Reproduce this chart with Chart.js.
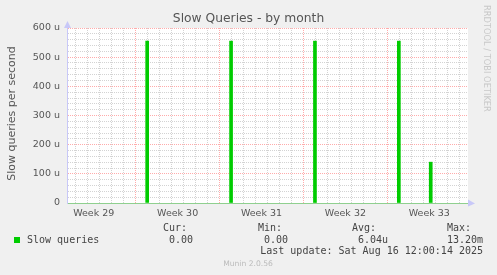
<!DOCTYPE html>
<html>
<head>
<meta charset="utf-8">
<script src="https://cdn.jsdelivr.net/npm/chart.js@4/dist/chart.umd.min.js"></script>
<style>
  html, body { margin: 0; padding: 0; background: #f0f0f0; }
</style>
</head>
<body>
<canvas id="chart" width="497" height="275"></canvas>
<script>
// x values are days counted from the start of week 30
const weekLabels = ['Week 29', 'Week 30', 'Week 31', 'Week 32', 'Week 33'];
const weekCenters = [-3.5, 3.5, 10.5, 17.5, 24.5];
const dayMin = -5.73, dayMax = 27.73;

// slow queries per second, in micro (u)
const spikeDays = [0.96, 7.96, 14.96, 21.96, 24.62];
const spikeValues = [555, 555, 555, 555, 140];

const yMax = 600, yStep = 20;

const statNames = ['Cur:', 'Min:', 'Avg:', 'Max:'];
const statValues = ['0.00', '0.00', '6.04u', '13.20m'];
const lastUpdate = 'Last update: Sat Aug 16 12:00:14 2025';

const SANS = '"DejaVu Sans", sans-serif';
const MONO = '"DejaVu Sans Mono", monospace';
const majorGrid = 'rgba(255,0,0,0.33)';
const minorGrid = 'rgba(128,128,128,0.35)';
const axisBlue = '#c8c8f8';

const munin = {
    id: 'munin',
    beforeDraw(chart) {
        const { ctx, chartArea: a } = chart;
        ctx.save();
        ctx.fillStyle = '#f0f0f0';
        ctx.fillRect(0, 0, chart.width, chart.height);
        ctx.fillStyle = '#ffffff';
        ctx.fillRect(a.left, a.top, a.right - a.left, a.bottom - a.top);
        ctx.restore();
    },
    afterDraw(chart) {
        const { ctx, chartArea: a } = chart;
        ctx.save();
        // title
        ctx.fillStyle = '#555';
        ctx.textAlign = 'center';
        ctx.textBaseline = 'middle';
        ctx.font = '12.3px ' + SANS;
        ctx.fillText('Slow Queries - by month', 248.5, 19);

        // y title
        ctx.save();
        ctx.translate(11.7, 113.5);
        ctx.rotate(-Math.PI / 2);
        ctx.font = '11px ' + SANS;
        ctx.fillText('Slow queries per second', 0, 0);
        ctx.restore();

        // rrdtool credit
        ctx.save();
        ctx.translate(486, 5);
        ctx.rotate(Math.PI / 2);
        ctx.fillStyle = '#c8c8c8';
        ctx.textAlign = 'left';
        ctx.font = '8.3px ' + SANS;
        ctx.fillText('RRDTOOL / TOBI OETIKER', 0, 0);
        ctx.restore();

        // arrows
        ctx.fillStyle = axisBlue;
        ctx.beginPath();
        ctx.moveTo(a.left - 3, a.top);
        ctx.lineTo(a.left + 0.5, a.top - 7);
        ctx.lineTo(a.left + 4, a.top);
        ctx.fill();
        ctx.beginPath();
        ctx.moveTo(a.right, a.bottom - 3.5);
        ctx.lineTo(a.right + 7, a.bottom + 0.5);
        ctx.lineTo(a.right, a.bottom + 3.5);
        ctx.fill();

        // legend
        ctx.fillStyle = '#00cc00';
        ctx.fillRect(14, 237, 6, 6);
        ctx.fillStyle = '#444';
        ctx.font = '10px ' + MONO;
        ctx.textAlign = 'left';
        ctx.fillText('Slow queries', 27, 240);
        const nameRight = [187, 282, 376, 471];
        const valRight = [193, 288, 388, 483];
        ctx.textAlign = 'right';
        statNames.forEach((n, i) => ctx.fillText(n, nameRight[i], 228));
        statValues.forEach((v, i) => ctx.fillText(v, valRight[i], 240));
        ctx.fillText(lastUpdate, 483, 251.5);

        ctx.fillStyle = '#bbb';
        ctx.textAlign = 'center';
        ctx.font = '7.6px ' + SANS;
        ctx.fillText('Munin 2.0.56', 248, 264.5);
        ctx.restore();
    }
};

new Chart('chart', {
    type: 'bar',
    data: {
        datasets: [{
            label: 'Slow queries',
            data: spikeDays.map((d, i) => ({ x: d, y: spikeValues[i] })),
            backgroundColor: '#00cc00',
            borderWidth: 0,
            barThickness: 3
        }]
    },
    options: {
        responsive: false,
        animation: false,
        layout: { padding: { left: 0, top: 28, right: 29, bottom: 0 } },
        plugins: { legend: { display: false }, tooltip: { enabled: false } },
        scales: {
            x: {
                type: 'linear',
                min: dayMin,
                max: dayMax,
                offset: false,
                afterBuildTicks: ax => {
                    const t = [];
                    for (let d = Math.ceil(dayMin); d <= dayMax; d++) t.push({ value: d });
                    weekCenters.forEach(c => t.push({ value: c }));
                    t.sort((p, q) => p.value - q.value);
                    ax.ticks = t;
                },
                afterFit: ax => { ax.height = 72; },
                grid: {
                    offset: false,
                    drawTicks: false,
                    color: c => {
                        const v = c.tick ? c.tick.value : 0;
                        if (!Number.isInteger(v)) return 'rgba(0,0,0,0)';
                        return v % 7 === 0 ? majorGrid : minorGrid;
                    }
                },
                border: { color: '#8fd08f', dash: [1, 1] },
                ticks: {
                    autoSkip: false,
                    maxRotation: 0,
                    padding: 5,
                    color: '#555',
                    font: { family: SANS, size: 9.5 },
                    callback: v => {
                        const i = weekCenters.indexOf(v);
                        return i >= 0 ? weekLabels[i] : '';
                    }
                }
            },
            y: {
                min: 0,
                max: yMax,
                afterFit: ax => { ax.width = 67; },
                grid: {
                    drawTicks: false,
                    color: c => {
                        const v = c.tick ? c.tick.value : 0;
                        if (v === 0) return 'rgba(0,0,0,0)';
                        return v % 100 === 0 ? majorGrid : minorGrid;
                    }
                },
                border: { color: axisBlue, dash: [1, 1] },
                ticks: {
                    stepSize: yStep,
                    autoSkip: false,
                    padding: 7,
                    color: '#555',
                    font: { family: SANS, size: 9.5 },
                    callback: v => v % 100 !== 0 ? '' : (v === 0 ? '0' : v + ' u')
                }
            }
        }
    },
    plugins: [munin]
});
</script>
</body>
</html>
